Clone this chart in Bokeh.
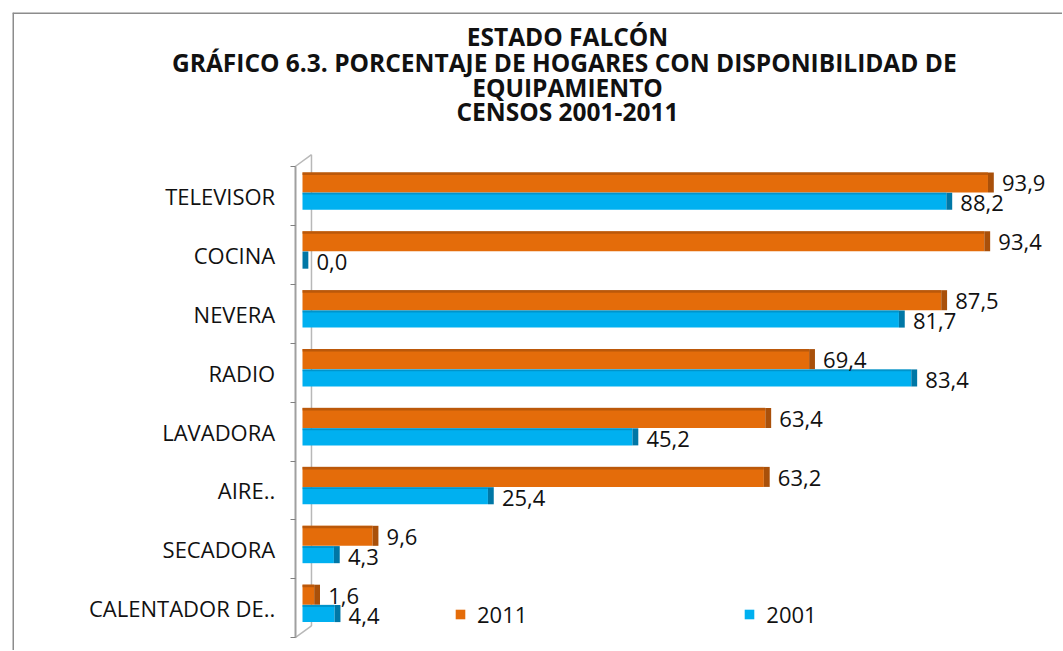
from bokeh.plotting import figure
from bokeh.models import (ColumnDataSource, Label, Legend, LegendItem,
                          FixedTicker, Span, Range1d)
from bokeh.embed import file_html
from bokeh.resources import INLINE
from bokeh.core.properties import value

# ---------------- data ----------------
categories = ["TELEVISOR", "COCINA", "NEVERA", "RADIO", "LAVADORA",
              "AIRE..", "SECADORA", "CALENTADOR DE.."]
v2011 = [93.9, 93.4, 87.5, 69.4, 63.4, 63.2, 9.6, 1.6]
v2001 = [88.2, 0.0, 81.7, 83.4, 45.2, 25.4, 4.3, 4.4]
series_names = ["2011", "2001"]
title_lines = ["ESTADO FALCÓN",
               "GRÁFICO 6.3. PORCENTAJE DE HOGARES CON DISPONIBILIDAD  DE",
               "EQUIPAMIENTO",
               "CENSOS 2001-2011"]

# ---------------- styles / layout ----------------
ORANGE = "#E46C0A"
ORANGE_DARK = "#A9500A"
BLUE = "#00B0F0"
BLUE_DARK = "#0077A6"
FONT = "Open Sans"
TXT = "#111111"

W, H = 1062, 650          # figure size
FRAME_L, FRAME_T = 12, 12 # chart-area (frame) offset inside the figure
PX_X = 7.3                # pixels per percentage point
ZERO_PX = 290             # x of value 0 measured from frame left
PX_Y = 58.9               # pixels per category band
TOP_PX = 154              # top of first band measured from frame top
TITLE_CX = 567            # horizontal centre of the title (figure px)

n = len(categories)
ypos = [n - 1 - i for i in range(n)]
fw, fh = W - FRAME_L, H - FRAME_T
x0 = -ZERO_PX / PX_X
y1 = (n - 0.5) + TOP_PX / PX_Y
y0 = y1 - fh / PX_Y

fmt = lambda v: f"{v:.1f}".replace(".", ",")
CAP = 0.8

src = ColumnDataSource(dict(
    y11=[y + 0.23 for y in ypos],
    y01=[y - 0.09 for y in ypos],
    v11=v2011, v01=v2001,
    c11=[v + CAP for v in v2011], c01=[v + CAP for v in v2001],
    l11=[fmt(v) for v in v2011], l01=[fmt(v) for v in v2001],
    t11=[y + 0.23 + 0.15 for y in ypos], t01=[y - 0.09 + 0.13 for y in ypos],
))

p = figure(width=W, height=H, output_backend="svg", toolbar_location=None,
           x_range=Range1d(x0, x0 + fw / PX_X), y_range=Range1d(y0, y1),
           x_axis_location=None, min_border_left=FRAME_L, min_border_right=0,
           min_border_top=FRAME_T, min_border_bottom=0)
p.title.visible = False
p.outline_line_color = None
p.xgrid.visible = False
p.ygrid.visible = False
p.background_fill_color = "white"
p.border_fill_color = "white"

# chart-area border (left and top; right/bottom fall outside the picture)
p.add_layout(Span(location=x0, dimension="height", line_color="#8c8c8c", line_width=3))
p.add_layout(Span(location=y1, dimension="width", line_color="#8c8c8c", line_width=3))

# 3D wall outline (back edge, top and bottom bevels)
AX_X = -1.0
WALL_X = 1.23
p.multi_line(xs=[[WALL_X, WALL_X], [AX_X, WALL_X], [AX_X, WALL_X]],
             ys=[[-0.3, n - 0.3], [n - 0.5, n - 0.3], [-0.5, -0.3]],
             line_color="#B8B8B8", line_width=1.5)

# bars 2011
r11 = p.hbar(y="y11", left=0, right="v11", height=0.34, source=src,
             fill_color=ORANGE, line_color=None)
p.hbar(y="t11", left=0, right="v11", height=0.045, source=src,
       fill_color=ORANGE_DARK, line_color=None, fill_alpha=0.7)
p.hbar(y="y11", left="v11", right="c11", height=0.34, source=src,
       fill_color=ORANGE_DARK, line_color=None)
# bars 2001
r01 = p.hbar(y="y01", left=0, right="v01", height=0.29, source=src,
             fill_color=BLUE, line_color=None)
p.hbar(y="t01", left=0, right="v01", height=0.035, source=src,
       fill_color=BLUE_DARK, line_color=None, fill_alpha=0.5)
p.hbar(y="y01", left="v01", right="c01", height=0.29, source=src,
       fill_color=BLUE_DARK, line_color=None)

# value labels
p.text(x="v11", y="y11", text="l11", source=src, x_offset=14, y_offset=1,
       text_baseline="middle", text_align="left", text_font=value(FONT),
       text_font_size="22px", text_color=TXT)
p.text(x="v01", y="y01", text="l01", source=src, x_offset=14, y_offset=2,
       text_baseline="middle", text_align="left", text_font=value(FONT),
       text_font_size="22px", text_color=TXT)

# y axis (placed on the wall, inside the chart area)
ax = p.yaxis[0]
ax.fixed_location = AX_X
ax.bounds = (-0.5, n - 0.5)
ax.ticker = FixedTicker(ticks=ypos, minor_ticks=[k + 0.5 for k in range(-1, n)])
ax.major_label_overrides = {y: c for y, c in zip(ypos, categories)}
ax.major_tick_line_color = None
ax.major_tick_out = 0
ax.major_tick_in = 0
ax.minor_tick_out = 5
ax.minor_tick_in = 0
ax.minor_tick_line_color = "#808080"
ax.axis_line_color = "#A0A0A0"
ax.axis_line_width = 2
ax.major_label_standoff = 15
ax.major_label_text_font = FONT
ax.major_label_text_font_size = "22px"
ax.major_label_text_color = TXT

# legend swatches (zero-size markers on the bar ends)
lg11 = p.scatter(x="v11", y="y11", source=src, marker="square", size=0,
                 fill_color=ORANGE, line_color=None)
lg01 = p.scatter(x="v01", y="y01", source=src, marker="square", size=0,
                 fill_color=BLUE, line_color=None)
legend = Legend(items=[LegendItem(label=series_names[0], renderers=[lg11]),
                       LegendItem(label=series_names[1], renderers=[lg01])],
                orientation="horizontal", location=(436, 21), spacing=210,
                glyph_width=24, glyph_height=30, label_standoff=5,
                padding=0, margin=0, border_line_color=None,
                background_fill_alpha=0, label_text_font=FONT,
                label_text_font_size="22px", label_text_color=TXT)
p.add_layout(legend)

# title lines (centred over the chart area)
title_x = (TITLE_CX - FRAME_L - ZERO_PX) / PX_X
title_top_px = [24, 50, 75, 99]   # line centres, pixels below frame top
for t, ty in zip(title_lines, title_top_px):
    p.add_layout(Label(x=title_x, y=y1 - ty / PX_Y, text=t,
                       text_align="center", text_baseline="middle",
                       text_font=FONT, text_font_style="bold",
                       text_font_size="24.5px", text_color=TXT))

open("out.html", "w").write(file_html(p, INLINE))
